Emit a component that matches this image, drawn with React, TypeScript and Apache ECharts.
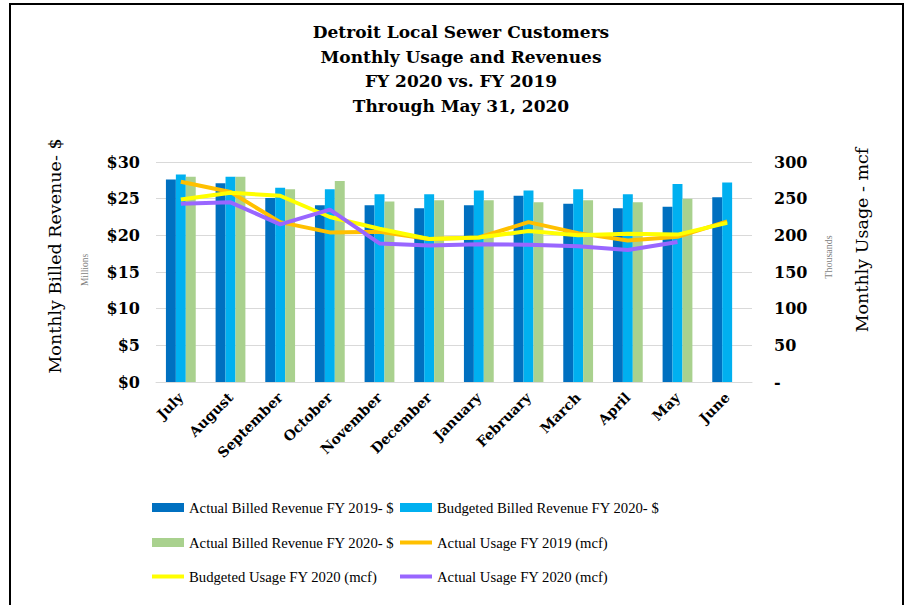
import React, { useEffect, useRef } from "react";
import * as echarts from "echarts";

const categories = ["July", "August", "September", "October", "November", "December", "January", "February", "March", "April", "May", "June"];
const actualRev2019 = [27.6, 27.1, 25.1, 24.1, 24.1, 23.7, 24.1, 25.4, 24.3, 23.7, 23.9, 25.2];
const budgetRev2020 = [28.3, 28.0, 26.5, 26.3, 25.6, 25.6, 26.1, 26.1, 26.3, 25.6, 27.0, 27.2];
const actualRev2020 = [28.0, 28.0, 26.3, 27.4, 24.6, 24.8, 24.8, 24.5, 24.8, 24.5, 25.0, null];
const actualUsage2019 = [273, 259, 218, 204, 205, 195, 197, 218, 203, 193, 198, 219];
const budgetUsage2020 = [249, 258, 254, 225, 209, 195, 197, 206, 200, 202, 201, 217];
const actualUsage2020 = [243, 245, 215, 235, 189, 186, 188, 187, 185, 180, 191, null];

const titleLines = ["Detroit Local Sewer Customers", "Monthly Usage and Revenues", "FY 2020 vs. FY 2019", "Through May 31, 2020"];

const N1 = "Actual Billed Revenue FY 2019- $";
const N2 = "Budgeted Billed Revenue FY 2020- $";
const N3 = "Actual Billed Revenue FY 2020- $";
const N4 = "Actual Usage FY 2019 (mcf)";
const N5 = "Budgeted Usage FY 2020 (mcf)";
const N6 = "Actual Usage FY 2020 (mcf)";

const SERIF = "'DejaVu Serif', serif";
const LSERIF = "'Liberation Serif', serif";

export default function App() {
  const ref = useRef<HTMLDivElement>(null);
  useEffect(() => {
    if (!ref.current) return;
    const chart = echarts.init(ref.current, null, { renderer: "svg" });
    const legendAt = (name: string, left: number, top: number, isLine: boolean) => ({
      data: [name],
      left,
      top,
      padding: 0,
      itemWidth: 32,
      itemHeight: isLine ? 4 : 9,
      icon: "rect",
      itemGap: 0,
      textStyle: { fontFamily: LSERIF, fontSize: 14.7, color: "#000" },
    });
    const option: any = {
      animation: false,
      backgroundColor: "#fff",
      grid: { left: 156, right: 156, top: 162, height: 220 },
      xAxis: {
        type: "category",
        data: categories,
        axisTick: { show: false },
        axisLine: { lineStyle: { color: "#D9D9D9", width: 1 } },
        axisLabel: {
          interval: 0,
          rotate: 45,
          margin: 13,
          fontFamily: SERIF,
          fontWeight: "bold",
          fontSize: 14,
          color: "#000",
        },
      },
      yAxis: [
        {
          type: "value",
          min: 0,
          max: 30,
          interval: 5,
          axisLine: { show: false },
          axisTick: { show: false },
          splitLine: { lineStyle: { color: "#D9D9D9", width: 1 } },
          axisLabel: {
            formatter: (v: number) => "$" + v,
            fontFamily: SERIF,
            fontWeight: "bold",
            fontSize: 16,
            color: "#000",
            margin: 16,
          },
        },
        {
          type: "value",
          min: 0,
          max: 300,
          interval: 50,
          axisLine: { show: false },
          axisTick: { show: false },
          splitLine: { show: false },
          axisLabel: {
            formatter: (v: number) => (v === 0 ? "-" : String(v)),
            fontFamily: SERIF,
            fontWeight: "bold",
            fontSize: 16,
            color: "#000",
            margin: 22,
          },
        },
      ],
      legend: [
        legendAt(N1, 152, 500, false),
        legendAt(N2, 400, 500, false),
        legendAt(N3, 152, 535, false),
        legendAt(N4, 400, 535, true),
        legendAt(N5, 152, 569, true),
        legendAt(N6, 400, 569, true),
      ],
      series: [
        { name: N1, type: "bar", data: actualRev2019, itemStyle: { color: "#0070C0" }, barGap: "0%", barCategoryGap: "40%" },
        { name: N2, type: "bar", data: budgetRev2020, itemStyle: { color: "#00B0F0" }, barGap: "0%", barCategoryGap: "40%" },
        { name: N3, type: "bar", data: actualRev2020, itemStyle: { color: "#A9D18E" }, barGap: "0%", barCategoryGap: "40%" },
        { name: N4, type: "line", yAxisIndex: 1, data: actualUsage2019, symbol: "none", itemStyle: { color: "#FFC000" }, lineStyle: { color: "#FFC000", width: 4 } },
        { name: N5, type: "line", yAxisIndex: 1, data: budgetUsage2020, symbol: "none", itemStyle: { color: "#FFFF00" }, lineStyle: { color: "#FFFF00", width: 4 } },
        { name: N6, type: "line", yAxisIndex: 1, data: actualUsage2020, symbol: "none", itemStyle: { color: "#9966FF" }, lineStyle: { color: "#9966FF", width: 4 } },
      ],
      graphic: [
        {
          type: "rect",
          shape: { x: 10, y: 4, width: 893, height: 620 },
          style: { fill: "none", stroke: "#000", lineWidth: 2 },
          silent: true,
        },
        {
          type: "text",
          x: 461,
          y: 20,
          style: {
            text: titleLines.join("\n"),
            textAlign: "center",
            fontFamily: SERIF,
            fontWeight: "bold",
            fontSize: 17,
            lineHeight: 24.5,
            fill: "#000",
          },
        },
        {
          type: "text",
          x: 55,
          y: 256,
          rotation: Math.PI / 2,
          style: {
            text: "Monthly Billed Revenue- $",
            textAlign: "center",
            textVerticalAlign: "middle",
            fontFamily: SERIF,
            fontSize: 17.5,
            fill: "#000",
          },
        },
        {
          type: "text",
          x: 85,
          y: 270,
          rotation: Math.PI / 2,
          style: {
            text: "Millions",
            textAlign: "center",
            textVerticalAlign: "middle",
            fontFamily: LSERIF,
            fontSize: 9.5,
            fill: "#7F7F7F",
          },
        },
        {
          type: "text",
          x: 828,
          y: 257,
          rotation: Math.PI / 2,
          style: {
            text: "Thousands",
            textAlign: "center",
            textVerticalAlign: "middle",
            fontFamily: LSERIF,
            fontSize: 10,
            fill: "#7F7F7F",
          },
        },
        {
          type: "text",
          x: 862,
          y: 240,
          rotation: Math.PI / 2,
          style: {
            text: "Monthly Usage - mcf",
            textAlign: "center",
            textVerticalAlign: "middle",
            fontFamily: SERIF,
            fontSize: 17.5,
            fill: "#000",
          },
        },
      ],
    };
    chart.setOption(option);
    return () => chart.dispose();
  }, []);
  return (
    <div
      ref={ref}
      style={{ position: "fixed", left: 0, top: 0, width: 908, height: 605, background: "#fff" }}
    />
  );
}
